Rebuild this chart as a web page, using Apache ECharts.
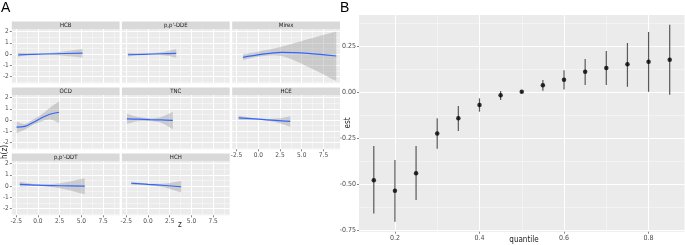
<!DOCTYPE html>
<html>
<head>
<meta charset="utf-8">
<script src="https://cdn.jsdelivr.net/npm/echarts@6/dist/echarts.min.js"></script>
<style>
html, body { margin: 0; padding: 0; background: #fff; }
#chart { width: 685px; height: 245px; }
</style>
</head>
<body>
<div id="chart"></div>
<script>
// A: exposure-response h(z) per pollutant (z, estimate, lower, upper)
var facetNames = ['HCB', "p,p'-DDE", 'Mirex', 'OCD', 'TNC', 'HCE', "p,p'-DDT", 'HCH'];

var hcbZ = [-2.27, -0.5, 2.0, 5.13];
var hcbEst = [-0.08, -0.03, 0.02, 0.07];
var hcbLo = [-0.24, -0.1, -0.1, -0.33];
var hcbHi = [0.1, 0.04, 0.14, 0.45];

var ddeZ = [-2.31, -0.5, 1.5, 3.25];
var ddeEst = [-0.07, -0.03, 0.02, 0.06];
var ddeLo = [-0.22, -0.1, -0.1, -0.33];
var ddeHi = [0.1, 0.04, 0.15, 0.45];

var mirexZ = [-1.76, -0.05, 2.64, 5.7, 8.97];
var mirexEst = [-0.3, -0.09, 0.15, 0.06, -0.18];
var mirexLo = [-0.54, -0.24, -0.18, -1.14, -2.42];
var mirexHi = [-0.03, 0.2, 0.65, 1.32, 2.0];

var ocdZ = [-2.46, -1.5, -0.55, 0.41, 1.37, 2.44];
var ocdEst = [-0.64, -0.58, -0.22, 0.18, 0.51, 0.69];
var ocdLo = [-1.18, -0.88, -0.43, -0.13, 0.03, -0.27];
var ocdHi = [-0.13, -0.36, 0.03, 0.48, 1.09, 1.64];

var tncZ = [-2.43, -1.2, 0.2, 1.5, 2.86];
var tncEst = [0.09, 0.07, 0.03, 0.0, -0.04];
var tncLo = [-0.36, -0.12, -0.1, -0.25, -0.82];
var tncHi = [0.55, 0.28, 0.15, 0.26, 0.73];

var hceZ = [-2.26, 0, 2, 3.68];
var hceEst = [0.18, 0.07, -0.04, -0.13];
var hceLo = [0.0, 0.01, -0.2, -0.6];
var hceHi = [0.38, 0.13, 0.12, 0.34];

var ddtZ = [-2.08, 0, 2.5, 5.39];
var ddtEst = [0.15, 0.07, 0.02, -0.01];
var ddtLo = [-0.06, 0.0, -0.2, -0.74];
var ddtHi = [0.37, 0.14, 0.25, 0.69];

var hchZ = [-1.93, 0, 2, 3.82];
var hchEst = [0.24, 0.14, 0.04, -0.07];
var hchLo = [0.1, 0.07, -0.15, -0.59];
var hchHi = [0.37, 0.21, 0.23, 0.44];

// B: overall effect by quantile
var quantiles = [0.15, 0.2, 0.25, 0.3, 0.35, 0.4, 0.45, 0.5, 0.55, 0.6, 0.65, 0.7, 0.75, 0.8, 0.85];
var estB = [-0.477, -0.535, -0.439, -0.223, -0.141, -0.069, -0.016, 0.003, 0.038, 0.068, 0.112, 0.132, 0.152, 0.166, 0.177];
var lowB = [-0.658, -0.703, -0.585, -0.306, -0.21, -0.105, -0.042, -0.002, 0.009, 0.016, 0.04, 0.04, 0.03, 0.003, -0.013];
var highB = [-0.292, -0.368, -0.292, -0.141, -0.074, -0.033, 0.007, 0.008, 0.067, 0.12, 0.181, 0.224, 0.268, 0.328, 0.367];

// tick labels
var zTicks = [-2.5, 0, 2.5, 5, 7.5];
var zMinor = [-1.25, 1.25, 3.75, 6.25, 8.75];
var hTicks = [-2, -1, 0, 1, 2];
var hMinor = [-2.5, -1.5, -0.5, 0.5, 1.5];
var qTicks = [0.2, 0.4, 0.6, 0.8];
var qMinor = [0.3, 0.5, 0.7];
var estTicks = [-0.75, -0.5, -0.25, 0, 0.25];
var estMinor = [-0.625, -0.375, -0.125, 0.125, 0.375];

var facetData = [
    [hcbZ, hcbEst, hcbLo, hcbHi],
    [ddeZ, ddeEst, ddeLo, ddeHi],
    [mirexZ, mirexEst, mirexLo, mirexHi],
    [ocdZ, ocdEst, ocdLo, ocdHi],
    [tncZ, tncEst, tncLo, tncHi],
    [hceZ, hceEst, hceLo, hceHi],
    [ddtZ, ddtEst, ddtLo, ddtHi],
    [hchZ, hchEst, hchLo, hchHi]
];

var narrow = "'Liberation Sans Narrow', 'DejaVu Sans Condensed', 'Liberation Sans', Arial, sans-serif";
var colLeft = [11.8, 121.9, 232.2];
var rowTop = [21.5, 87.5, 153.5];
var panelW = 107.8, panelH = 54.2, stripH = 7.6;
var SMOOTH = 0.35;

var grids = [], xAxes = [], yAxes = [], series = [], graphics = [];

function addAxes(gridIndex, xmin, xmax, ymin, ymax, xMaj, xMin, yMaj, yMin, showX, showY, xFmt, yFmt, fs) {
    var lbl = { color: '#4D4D4D', fontSize: fs, fontFamily: narrow, margin: 3 };
    xAxes.push({
        type: 'value', gridIndex: gridIndex, min: xmin, max: xmax,
        axisLine: { show: false, onZero: false },
        axisTick: { show: showX, length: 2, customValues: xMaj, lineStyle: { color: '#333333', width: 0.6 } },
        axisLabel: Object.assign({ show: showX, customValues: xMaj, formatter: xFmt }, lbl),
        splitLine: { show: true, lineStyle: { color: '#FFFFFF', width: 1 } }
    });
    xAxes.push({
        type: 'value', gridIndex: gridIndex, min: xmin, max: xmax, position: 'bottom',
        axisLine: { show: false, onZero: false }, axisLabel: { show: false },
        axisTick: { show: false, customValues: xMin },
        splitLine: { show: true, lineStyle: { color: '#FFFFFF', width: 0.5, opacity: 0.8 } }
    });
    yAxes.push({
        type: 'value', gridIndex: gridIndex, min: ymin, max: ymax,
        axisLine: { show: false, onZero: false },
        axisTick: { show: showY, length: 2, customValues: yMaj, lineStyle: { color: '#333333', width: 0.6 } },
        axisLabel: Object.assign({ show: showY, customValues: yMaj, formatter: yFmt }, lbl),
        splitLine: { show: true, lineStyle: { color: '#FFFFFF', width: 1 } }
    });
    yAxes.push({
        type: 'value', gridIndex: gridIndex, min: ymin, max: ymax, position: 'left',
        axisLine: { show: false, onZero: false }, axisLabel: { show: false },
        axisTick: { show: false, customValues: yMin },
        splitLine: { show: true, lineStyle: { color: '#FFFFFF', width: 0.5, opacity: 0.8 } }
    });
}

facetData.forEach(function (d, i) {
    var r = Math.floor(i / 3), c = i % 3;
    var top = rowTop[r] + stripH;
    grids.push({
        left: colLeft[c], top: top, width: panelW, height: panelH,
        show: true, backgroundColor: '#EBEBEB', borderWidth: 0
    });
    addAxes(i, -3, 9.4, -2.62, 2.22, zTicks, zMinor, hTicks, hMinor,
        i >= 5, c === 0,
        function (v) { return v.toFixed(1); },
        function (v) { return String(v); }, 6.5);

    var z = d[0], est = d[1], lo = d[2], hi = d[3];
    var axIdx = i * 2;
    // confidence ribbon as one smoothed polygon (corners doubled so they stay sharp)
    series.push({
        type: 'custom', xAxisIndex: axIdx, yAxisIndex: axIdx, silent: true,
        data: [[z[0], est[0]]],
        renderItem: function (params, api) {
            var low = z.map(function (v, k) { return api.coord([v, lo[k]]); });
            var up = z.map(function (v, k) { return api.coord([v, hi[k]]); }).reverse();
            var n = low.length;
            var pts = [low[0]].concat(low, [low[n - 1]], [up[0]], up, [up[n - 1]]);
            return {
                type: 'polygon',
                shape: { points: pts, smooth: SMOOTH },
                style: { fill: 'rgba(153,153,153,0.4)' }
            };
        }
    });
    series.push({
        type: 'line', xAxisIndex: axIdx, yAxisIndex: axIdx,
        data: z.map(function (v, k) { return [v, est[k]]; }),
        smooth: SMOOTH, showSymbol: false, lineStyle: { color: '#3366FF', width: 1.2 }, z: 5
    });

    graphics.push({
        type: 'rect', shape: { x: colLeft[c], y: rowTop[r], width: panelW, height: stripH },
        style: { fill: '#D9D9D9' }
    });
    graphics.push({
        type: 'text', x: colLeft[c] + panelW / 2, y: rowTop[r] + stripH / 2 + 0.3,
        style: { text: facetNames[i], fill: '#1A1A1A', fontSize: 6, fontFamily: narrow, align: 'center', verticalAlign: 'middle' }
    });
});

// panel B
var bIdx = facetData.length;
grids.push({ left: 359, top: 15, width: 325.5, height: 216.7, show: true, backgroundColor: '#EBEBEB', borderWidth: 0 });
addAxes(bIdx, 0.115, 0.885, -0.757, 0.42, qTicks, qMinor, estTicks, estMinor, true, true,
    function (v) { return v.toFixed(1); },
    function (v) { return v.toFixed(2); }, 7);

series.push({
    type: 'custom', xAxisIndex: bIdx * 2, yAxisIndex: bIdx * 2,
    data: quantiles.map(function (q, k) { return [q, lowB[k], highB[k]]; }),
    encode: { x: 0, y: [1, 2] },
    renderItem: function (params, api) {
        var a = api.coord([api.value(0), api.value(1)]);
        var b = api.coord([api.value(0), api.value(2)]);
        return {
            type: 'line',
            shape: { x1: a[0], y1: a[1], x2: b[0], y2: b[1] },
            style: { stroke: '#595959', lineWidth: 1.2 }
        };
    }
});
series.push({
    type: 'scatter', xAxisIndex: bIdx * 2, yAxisIndex: bIdx * 2,
    data: quantiles.map(function (q, k) { return [q, estB[k]]; }),
    symbolSize: 4.5, itemStyle: { color: '#000000' }, z: 5
});

// titles
graphics.push({ type: 'text', x: 1, y: 1, style: { text: 'A', fontSize: 14, fontFamily: 'Liberation Sans, Arial, sans-serif', fill: '#000' } });
graphics.push({ type: 'text', x: 340, y: 1, style: { text: 'B', fontSize: 14, fontFamily: 'Liberation Sans, Arial, sans-serif', fill: '#000' } });
graphics.push({ type: 'text', x: 180, y: 224.5, style: { text: 'z', fontSize: 8, fontFamily: narrow, fill: '#1A1A1A', align: 'center', verticalAlign: 'middle' } });
graphics.push({ type: 'text', x: 4.5, y: 152, rotation: Math.PI / 2, style: { text: 'h(z)', fontSize: 8, fontFamily: narrow, fill: '#1A1A1A', align: 'center', verticalAlign: 'middle' } });
graphics.push({ type: 'text', x: 347.5, y: 123, rotation: Math.PI / 2, style: { text: 'est', fontSize: 8, fontFamily: narrow, fill: '#1A1A1A', align: 'center', verticalAlign: 'middle' } });
graphics.push({ type: 'text', x: 524, y: 239.5, style: { text: 'quantile', fontSize: 8, fontFamily: narrow, fill: '#1A1A1A', align: 'center', verticalAlign: 'middle' } });

var myChart = echarts.init(document.getElementById('chart'));
myChart.setOption({
    animation: false,
    backgroundColor: '#FFFFFF',
    grid: grids,
    xAxis: xAxes,
    yAxis: yAxes,
    series: series,
    graphic: graphics
});
</script>
</body>
</html>
